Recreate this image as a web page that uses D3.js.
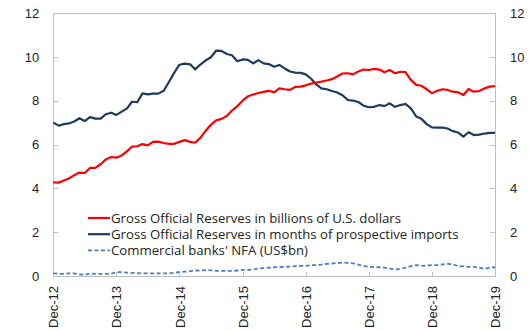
<!DOCTYPE html>
<html>
<head>
<meta charset="utf-8">
<script src="https://cdn.jsdelivr.net/npm/d3@7"></script>
<style>
  html, body { margin: 0; padding: 0; background: #fff; }
  svg { display: block; font-family: "Open Sans", "Noto Sans", sans-serif; }
</style>
</head>
<body>
<svg id="chart" width="529" height="331"></svg>
<script>
// Monthly observations, Dec-2012 through Dec-2019
const startMonth = new Date(2012, 11, 1);
const endMonth = new Date(2019, 11, 1);

// Gross official reserves, billions of US dollars
const reservesUSD = [
  4.27, 4.26, 4.36, 4.45, 4.60, 4.72, 4.70, 4.93, 4.93, 5.10, 5.32, 5.43,
  5.40, 5.50, 5.70, 5.90, 5.92, 6.02, 5.96, 6.12, 6.13, 6.07, 6.03, 6.03,
  6.12, 6.20, 6.12, 6.08, 6.30, 6.62, 6.90, 7.10, 7.17, 7.30, 7.55, 7.75,
  8.00, 8.20, 8.28, 8.35, 8.40, 8.45, 8.38, 8.56, 8.52, 8.49, 8.63, 8.64,
  8.70, 8.78, 8.83, 8.87, 8.92, 8.98, 9.10, 9.24, 9.25, 9.20, 9.33, 9.42,
  9.40, 9.45, 9.42, 9.30, 9.40, 9.25, 9.32, 9.30, 8.95, 8.72, 8.68, 8.52,
  8.34, 8.45, 8.52, 8.49, 8.41, 8.38, 8.26, 8.53, 8.41, 8.44, 8.56, 8.64,
  8.67
];

// Gross official reserves, months of prospective imports
const reservesMonths = [
  7.00, 6.86, 6.93, 6.96, 7.05, 7.20, 7.07, 7.25, 7.18, 7.18, 7.38, 7.45,
  7.35, 7.50, 7.65, 7.95, 7.93, 8.33, 8.29, 8.32, 8.32, 8.45, 8.85, 9.28,
  9.64, 9.69, 9.66, 9.43, 9.65, 9.83, 9.98, 10.28, 10.27, 10.13, 10.07, 9.80,
  9.88, 9.86, 9.70, 9.85, 9.70, 9.67, 9.55, 9.63, 9.47, 9.33, 9.28, 9.27,
  9.20, 9.00, 8.73, 8.56, 8.52, 8.44, 8.37, 8.25, 8.03, 8.00, 7.94, 7.77,
  7.70, 7.72, 7.80, 7.75, 7.88, 7.72, 7.80, 7.85, 7.65, 7.28, 7.17, 6.93,
  6.78, 6.77, 6.77, 6.73, 6.61, 6.55, 6.36, 6.56, 6.43, 6.45, 6.50, 6.53,
  6.53
];

// Commercial banks' net foreign assets, US$ billions
const banksNFA = [
  0.12, 0.10, 0.10, 0.12, 0.12, 0.08, 0.05, 0.12, 0.10, 0.10, 0.10, 0.10,
  0.18, 0.17, 0.15, 0.14, 0.13, 0.12, 0.12, 0.12, 0.12, 0.12, 0.12, 0.15,
  0.18, 0.20, 0.22, 0.25, 0.25, 0.27, 0.26, 0.24, 0.23, 0.23, 0.23, 0.25,
  0.28, 0.28, 0.30, 0.34, 0.36, 0.38, 0.40, 0.41, 0.42, 0.43, 0.45, 0.46,
  0.46, 0.50, 0.50, 0.52, 0.55, 0.57, 0.59, 0.61, 0.60, 0.58, 0.52, 0.46,
  0.42, 0.41, 0.40, 0.38, 0.34, 0.30, 0.32, 0.38, 0.45, 0.50, 0.46, 0.48,
  0.50, 0.50, 0.53, 0.55, 0.53, 0.46, 0.44, 0.42, 0.42, 0.38, 0.33, 0.38,
  0.40
];

const yTicks = [0, 2, 4, 6, 8, 10, 12];

const seriesNames = [
  "Gross Official Reserves in billions of U.S. dollars",
  "Gross Official Reserves in months of prospective imports",
  "Commercial banks' NFA (US$bn)"
];

const months = d3.timeMonth.range(startMonth, d3.timeMonth.offset(endMonth, 1));

const plot = { left: 53.3, right: 495, top: 13, bottom: 276 };
const axisColor = "#bfbfbf";
const textColor = "#222";

const svg = d3.select("#chart");

const x = d3.scaleTime().domain([startMonth, endMonth]).range([plot.left, plot.right]);
const y = d3.scaleLinear().domain([0, 12]).range([plot.bottom, plot.top]);

// Frame
svg.append("rect")
  .attr("x", plot.left).attr("y", plot.top)
  .attr("width", plot.right - plot.left).attr("height", plot.bottom - plot.top)
  .attr("fill", "none").attr("stroke", axisColor).attr("stroke-width", 1)
  .attr("shape-rendering", "crispEdges");

function styleAxis(g) {
  g.select(".domain").remove();
  g.selectAll(".tick line").attr("stroke", axisColor).attr("shape-rendering", "crispEdges");
  g.selectAll(".tick text").attr("fill", textColor).attr("font-size", 13);
}

// Left axis (ticks inward)
svg.append("g")
  .attr("transform", `translate(${plot.left},0)`)
  .call(d3.axisLeft(y).tickValues(yTicks).tickSize(-5).tickPadding(14).tickFormat(d3.format("d")))
  .call(styleAxis);

// Right axis (ticks inward)
svg.append("g")
  .attr("transform", `translate(${plot.right},0)`)
  .call(d3.axisRight(y).tickValues(yTicks).tickSize(-5).tickPadding(15).tickFormat(d3.format("d")))
  .call(styleAxis);

// Bottom axis: one tick each December
const decembers = d3.range(2012, 2020).map(yr => new Date(yr, 11, 1));
const xAxis = svg.append("g")
  .attr("transform", `translate(0,${plot.bottom})`)
  .call(d3.axisBottom(x).tickValues(decembers).tickSize(-4).tickFormat(d3.timeFormat("%b-%y")))
  .call(styleAxis);
xAxis.selectAll(".tick text")
  .attr("transform", "rotate(-90)")
  .attr("text-anchor", "end")
  .attr("x", -10)
  .attr("y", 0)
  .attr("dy", "0.35em");

// Series lines
const line = d3.line()
  .x((d, i) => x(months[i]))
  .y(d => y(d))
  .curve(d3.curveLinear);

const series = [
  { values: banksNFA, color: "#4a7cc9", width: 1.8, dash: "4,2.5" },
  { values: reservesMonths, color: "#1f3a60", width: 2.2, dash: null },
  { values: reservesUSD, color: "#ff0000", width: 2.2, dash: null }
];

series.forEach(s => {
  svg.append("path")
    .datum(s.values)
    .attr("d", line)
    .attr("fill", "none")
    .attr("stroke", s.color)
    .attr("stroke-width", s.width)
    .attr("stroke-linejoin", "round")
    .attr("stroke-dasharray", s.dash);
});

// Legend
const legendItems = [
  { name: seriesNames[0], color: "#ff0000", width: 2.2, dash: null },
  { name: seriesNames[1], color: "#1f3a60", width: 2.2, dash: null },
  { name: seriesNames[2], color: "#4a7cc9", width: 1.8, dash: "4,2.5" }
];
const legend = svg.append("g").attr("transform", "translate(88,218)");
legendItems.forEach((item, i) => {
  const row = legend.append("g").attr("transform", `translate(0,${i * 16.2})`);
  row.append("line")
    .attr("x1", 0).attr("x2", 22).attr("y1", 0).attr("y2", 0)
    .attr("stroke", item.color).attr("stroke-width", item.width)
    .attr("stroke-dasharray", item.dash);
  row.append("text")
    .attr("x", 23).attr("y", 0).attr("dy", "0.35em")
    .attr("font-size", 13.2)
    .attr("fill", textColor)
    .text(item.name);
});
</script>
</body>
</html>
